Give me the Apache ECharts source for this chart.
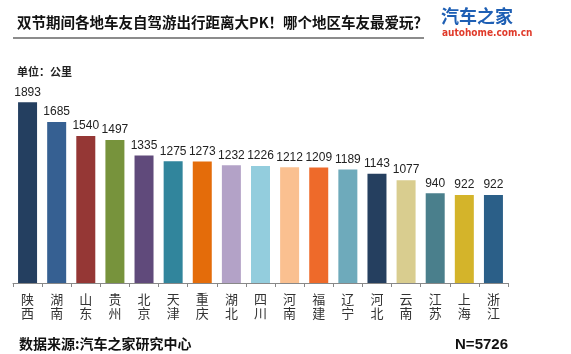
<!DOCTYPE html>
<html>
<head>
<meta charset="utf-8">
<script src="https://cdn.jsdelivr.net/npm/echarts@6/dist/echarts.min.js"></script>
<style>
html, body { margin: 0; padding: 0; background: #fff; }
#main { width: 571px; height: 354px; }
</style>
</head>
<body>
<div id="main"></div>
<script>
var regions = ['陕西', '湖南', '山东', '贵州', '北京', '天津', '重庆', '湖北', '四川', '河南', '福建', '辽宁', '河北', '云南', '江苏', '上海', '浙江'];
var distances = [1893, 1685, 1540, 1497, 1335, 1275, 1273, 1232, 1226, 1212, 1209, 1189, 1143, 1077, 940, 922, 922];
var barColors = ['#243f60', '#366092', '#953735', '#77933c', '#604a7b', '#31859c', '#e46c0a', '#b3a2c7', '#93cddd', '#fac090',
	'#ee6a2a', '#6eaabb', '#253f5f', '#d9cd8f', '#4a7f8c', '#d4b42a', '#2b5f88'];

var chart = echarts.init(document.getElementById('main'));
var font = '"Noto Sans CJK SC", sans-serif';

var option = {
	backgroundColor: '#fff',
	animation: false,
	title: [{
		text: '双节期间各地车友自驾游出行距离大PK！哪个地区车友最爱玩？',
		left: 12,
		top: 10,
		textStyle: { fontFamily: font, fontSize: 14.5, fontWeight: 'bold', color: '#111' }
	}, {
		text: '单位：公里',
		left: 12,
		top: 61,
		textStyle: { fontFamily: font, fontSize: 11, fontWeight: 'bold', color: '#222' }
	}, {
		text: '数据来源:汽车之家研究中心',
		left: 14,
		top: 332,
		textStyle: { fontFamily: font, fontSize: 14, fontWeight: 'bold', color: '#111' }
	}, {
		text: 'N=5726',
		right: 58,
		top: 332,
		textStyle: { fontFamily: 'Liberation Sans, Arial', fontSize: 15, fontWeight: 'bold', color: '#111' }
	}],
	graphic: [{
		type: 'rect',
		shape: { x: 13, y: 37, width: 411, height: 2 },
		style: { fill: '#8c8c8c' }
	}, {
		type: 'text',
		left: 441,
		top: 7,
		style: { text: '汽车之家', font: 'bold 18px "Noto Sans CJK SC"', fill: '#1e5fb4' }
	}, {
		type: 'text',
		left: 442,
		top: 28,
		style: { text: 'autohome.com.cn', font: 'bold 10px "Liberation Sans Narrow", "DejaVu Sans Condensed", sans-serif', fill: '#e03a2a' }
	}],
	grid: {
		left: 13,
		right: 63,
		top: 92,
		bottom: 71,
		containLabel: false
	},
	xAxis: {
		type: 'category',
		data: regions,
		axisLine: { lineStyle: { color: '#888', width: 1 } },
		axisTick: { show: true, length: 4, lineStyle: { color: '#888' } },
		axisLabel: {
			interval: 0,
			margin: 9,
			fontFamily: font,
			fontSize: 13,
			lineHeight: 14,
			color: '#333',
			formatter: function (v) { return v.split('').join('\n'); }
		}
	},
	yAxis: {
		type: 'value',
		min: 0,
		max: 2000,
		show: false,
		splitLine: { show: false }
	},
	series: [{
		type: 'bar',
		data: distances,
		barWidth: 19,
		itemStyle: {
			color: function (p) { return barColors[p.dataIndex]; }
		},
		label: {
			show: true,
			position: 'top',
			distance: 4,
			fontFamily: 'Liberation Sans, Arial',
			fontSize: 12,
			color: '#222'
		}
	}]
};
chart.setOption(option);
</script>
</body>
</html>
